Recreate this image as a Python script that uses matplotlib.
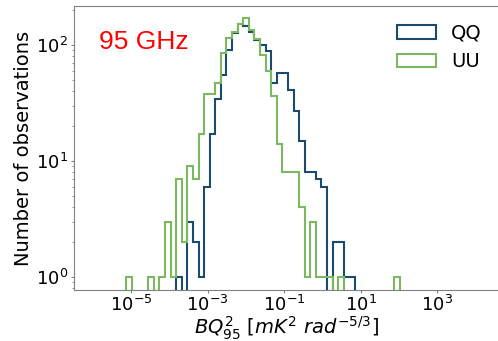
import numpy as np
import matplotlib
matplotlib.use("Agg")
import matplotlib.pyplot as plt

# log10 range of the histogram bins (49 logarithmic bins)
bin_log_min = -5.13
bin_log_max = 2.014
n_bins = 49

# counts per bin
qq_counts = [0, 0, 0, 0, 0, 0, 0, 0, 0, 1, 0, 3, 2, 1, 6, 17, 34, 55, 91, 126,
             150, 146, 128, 110, 100, 88, 47, 57, 57, 41, 27, 15, 8, 8, 7, 6, 0, 2, 2, 1,
             1, 0, 0, 0, 0, 0, 0, 0, 0]
uu_counts = [1, 0, 0, 0, 1, 0, 1, 3, 1, 7, 2, 9, 7, 17, 38, 38, 47, 85, 114, 130,
             152, 170, 134, 112, 82, 59, 36, 14, 8, 8, 8, 4, 1, 3, 1, 1, 1, 0, 1, 0,
             0, 0, 0, 0, 0, 0, 0, 0, 1]
series_labels = ["QQ", "UU"]
series_colors = ["#1a4a6e", "#7cb85f"]

edges = np.logspace(bin_log_min, bin_log_max, n_bins + 1)
centers = np.sqrt(edges[:-1] * edges[1:])

fig = plt.figure(figsize=(4.98, 3.41), dpi=100)
ax = fig.add_axes([74 / 498, 51 / 341, 1.003 - 74 / 498, 284 / 341])

for counts, lab, col in zip([qq_counts, uu_counts], series_labels, series_colors):
    ax.hist(centers, bins=edges, weights=counts, histtype="step", log=True,
            color=col, linewidth=1.5, label=lab)

ax.set_xscale("log")
ax.set_yscale("log")
ax.set_xlim(10 ** -6.485, 10 ** 4.62)
ax.set_ylim(0.775, 216)

for s in ax.spines.values():
    s.set_color("gray")
ax.tick_params(which="major", colors="gray", labelcolor="black", labelsize=13,
               length=2.3, pad=2.0)
ax.tick_params(axis="x", which="major", pad=1.0)
ax.tick_params(which="minor", colors="gray", length=1.4)

ax.set_ylabel("Number of observations", fontsize=14, labelpad=2)
ax.set_xlabel(r"$BQ_{95}^{2}\ [mK^{2}\ rad^{-5/3}]$", fontsize=14, labelpad=0)

ax.legend(loc="upper right", frameon=False, fontsize=14)
fig.text(99 / 498, 1 - 49 / 341, "95 GHz", color="red", fontsize=19,
         family="Liberation Sans", va="baseline", ha="left")

fig.savefig("out.png", dpi=100)
